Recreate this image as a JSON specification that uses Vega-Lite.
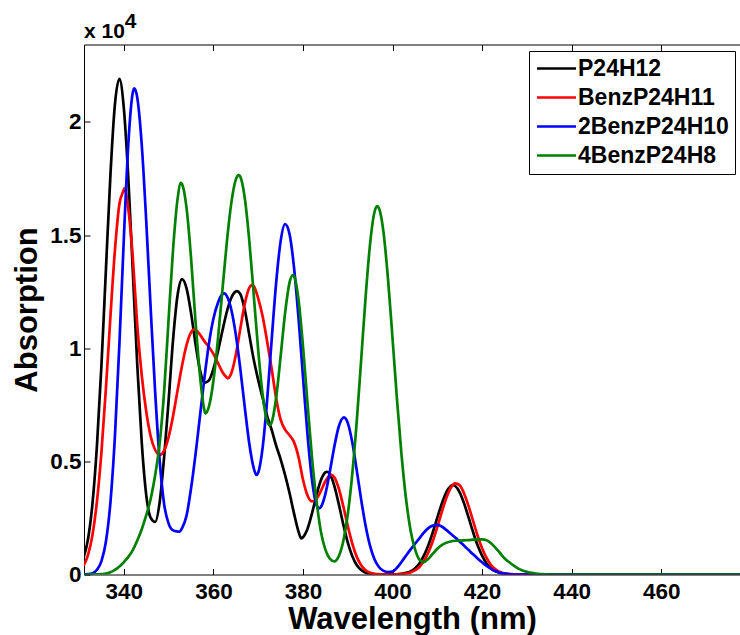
{
"$schema":"https://vega.github.io/schema/vega-lite/v6.json",
"width":656,"height":530,
"autosize":{"type":"none"},
"padding":{"left":84,"top":44.5,"right":0,"bottom":60.5},
"background":"white",
"title":{"text":"\u200b\u00a0\u00a0\u00a0\u00a0\u00a0\u00a0\u00a04","subtitle":"x 10","anchor":"start","frame":"group","font":"Liberation Sans","fontSize":21,"fontWeight":"bold","color":"black","subtitleFont":"Liberation Sans","subtitleFontSize":21,"subtitleFontWeight":"bold","subtitleColor":"black","subtitlePadding":-11,"offset":2},
"config":{"view":{"stroke":"black","strokeWidth":1},"font":"Liberation Sans"},
"data":{"values":[
{"s":"P24H12","w":331,"a":750},{"s":"P24H12","w":332,"a":1570},{"s":"P24H12","w":333,"a":3150},{"s":"P24H12","w":334,"a":5720},{"s":"P24H12","w":335,"a":9260},{"s":"P24H12","w":336,"a":13490},{"s":"P24H12","w":337,"a":17650},{"s":"P24H12","w":338,"a":20760},{"s":"P24H12","w":339,"a":21900},{"s":"P24H12","w":340,"a":20600},{"s":"P24H12","w":341,"a":17500},{"s":"P24H12","w":342,"a":13400},{"s":"P24H12","w":343,"a":9240},{"s":"P24H12","w":344,"a":5820},{"s":"P24H12","w":345,"a":3510},{"s":"P24H12","w":346,"a":2500},{"s":"P24H12","w":347,"a":2320},{"s":"P24H12","w":348,"a":3200},{"s":"P24H12","w":349,"a":5200},{"s":"P24H12","w":350,"a":7700},{"s":"P24H12","w":351,"a":10400},{"s":"P24H12","w":352,"a":12350},{"s":"P24H12","w":353,"a":13050},{"s":"P24H12","w":354,"a":12640},{"s":"P24H12","w":355,"a":11560},{"s":"P24H12","w":356,"a":10200},{"s":"P24H12","w":357,"a":9030},{"s":"P24H12","w":358,"a":8470},{"s":"P24H12","w":359,"a":8580},{"s":"P24H12","w":360,"a":9080},{"s":"P24H12","w":361,"a":9850},{"s":"P24H12","w":362,"a":10760},{"s":"P24H12","w":363,"a":11610},{"s":"P24H12","w":364,"a":12230},{"s":"P24H12","w":365,"a":12510},{"s":"P24H12","w":365.2,"a":12520},{"s":"P24H12","w":366,"a":12400},{"s":"P24H12","w":367,"a":11700},{"s":"P24H12","w":368,"a":10600},{"s":"P24H12","w":369,"a":9500},{"s":"P24H12","w":370,"a":8600},{"s":"P24H12","w":371,"a":7800},{"s":"P24H12","w":372,"a":7000},{"s":"P24H12","w":373,"a":6400},{"s":"P24H12","w":374,"a":5700},{"s":"P24H12","w":375,"a":5100},{"s":"P24H12","w":376,"a":4400},{"s":"P24H12","w":377,"a":3600},{"s":"P24H12","w":378,"a":2700},{"s":"P24H12","w":379,"a":1900},{"s":"P24H12","w":379.6,"a":1600},{"s":"P24H12","w":380,"a":1650},{"s":"P24H12","w":381,"a":2010},{"s":"P24H12","w":382,"a":2690},{"s":"P24H12","w":383,"a":3490},{"s":"P24H12","w":384,"a":4160},{"s":"P24H12","w":385,"a":4510},{"s":"P24H12","w":385.35,"a":4540},{"s":"P24H12","w":386,"a":4440},{"s":"P24H12","w":387,"a":3920},{"s":"P24H12","w":388,"a":3110},{"s":"P24H12","w":389,"a":2220},{"s":"P24H12","w":390,"a":1420},{"s":"P24H12","w":391,"a":820},{"s":"P24H12","w":392,"a":420},{"s":"P24H12","w":393,"a":200},{"s":"P24H12","w":394,"a":80},{"s":"P24H12","w":395,"a":30},{"s":"P24H12","w":396,"a":10},{"s":"P24H12","w":397,"a":0},{"s":"P24H12","w":399,"a":0},{"s":"P24H12","w":400,"a":5},{"s":"P24H12","w":401,"a":10},{"s":"P24H12","w":402,"a":30},{"s":"P24H12","w":403,"a":70},{"s":"P24H12","w":404,"a":140},{"s":"P24H12","w":405,"a":270},{"s":"P24H12","w":406,"a":490},{"s":"P24H12","w":407,"a":830},{"s":"P24H12","w":408,"a":1290},{"s":"P24H12","w":409,"a":1870},{"s":"P24H12","w":410,"a":2510},{"s":"P24H12","w":411,"a":3130},{"s":"P24H12","w":412,"a":3630},{"s":"P24H12","w":413,"a":3910},{"s":"P24H12","w":413.5,"a":3950},{"s":"P24H12","w":414,"a":3910},{"s":"P24H12","w":415,"a":3630},{"s":"P24H12","w":416,"a":3130},{"s":"P24H12","w":417,"a":2510},{"s":"P24H12","w":418,"a":1870},{"s":"P24H12","w":419,"a":1290},{"s":"P24H12","w":420,"a":830},{"s":"P24H12","w":421,"a":490},{"s":"P24H12","w":422,"a":270},{"s":"P24H12","w":423,"a":140},{"s":"P24H12","w":424,"a":70},{"s":"P24H12","w":425,"a":30},{"s":"P24H12","w":426,"a":10},{"s":"P24H12","w":427,"a":0},{"s":"P24H12","w":440,"a":0},{"s":"P24H12","w":460,"a":0},{"s":"P24H12","w":478,"a":0},
{"s":"BenzP24H11","w":331,"a":390},{"s":"BenzP24H11","w":332,"a":870},{"s":"BenzP24H11","w":333,"a":1760},{"s":"BenzP24H11","w":334,"a":3240},{"s":"BenzP24H11","w":335,"a":5420},{"s":"BenzP24H11","w":336,"a":8240},{"s":"BenzP24H11","w":337,"a":11390},{"s":"BenzP24H11","w":338,"a":14310},{"s":"BenzP24H11","w":339,"a":16360},{"s":"BenzP24H11","w":340,"a":17000},{"s":"BenzP24H11","w":340.1,"a":17060},{"s":"BenzP24H11","w":341,"a":16150},{"s":"BenzP24H11","w":342,"a":14000},{"s":"BenzP24H11","w":343,"a":11000},{"s":"BenzP24H11","w":344,"a":8800},{"s":"BenzP24H11","w":345,"a":7200},{"s":"BenzP24H11","w":346,"a":6100},{"s":"BenzP24H11","w":347,"a":5500},{"s":"BenzP24H11","w":348,"a":5280},{"s":"BenzP24H11","w":349,"a":5470},{"s":"BenzP24H11","w":350,"a":6080},{"s":"BenzP24H11","w":351,"a":7020},{"s":"BenzP24H11","w":352,"a":8140},{"s":"BenzP24H11","w":353,"a":9240},{"s":"BenzP24H11","w":354,"a":10140},{"s":"BenzP24H11","w":355,"a":10700},{"s":"BenzP24H11","w":355.75,"a":10830},{"s":"BenzP24H11","w":356,"a":10810},{"s":"BenzP24H11","w":357,"a":10600},{"s":"BenzP24H11","w":358,"a":10300},{"s":"BenzP24H11","w":359,"a":10050},{"s":"BenzP24H11","w":360,"a":9750},{"s":"BenzP24H11","w":361,"a":9350},{"s":"BenzP24H11","w":362,"a":8950},{"s":"BenzP24H11","w":363,"a":8700},{"s":"BenzP24H11","w":363.2,"a":8670},{"s":"BenzP24H11","w":364,"a":8890},{"s":"BenzP24H11","w":365,"a":9700},{"s":"BenzP24H11","w":366,"a":10850},{"s":"BenzP24H11","w":367,"a":11960},{"s":"BenzP24H11","w":368,"a":12670},{"s":"BenzP24H11","w":368.6,"a":12790},{"s":"BenzP24H11","w":369,"a":12750},{"s":"BenzP24H11","w":370,"a":12200},{"s":"BenzP24H11","w":371,"a":11400},{"s":"BenzP24H11","w":372,"a":10300},{"s":"BenzP24H11","w":373,"a":9100},{"s":"BenzP24H11","w":374,"a":7800},{"s":"BenzP24H11","w":375,"a":6850},{"s":"BenzP24H11","w":376,"a":6400},{"s":"BenzP24H11","w":377,"a":6150},{"s":"BenzP24H11","w":378,"a":5850},{"s":"BenzP24H11","w":379,"a":5200},{"s":"BenzP24H11","w":380,"a":4200},{"s":"BenzP24H11","w":381,"a":3500},{"s":"BenzP24H11","w":382,"a":3230},{"s":"BenzP24H11","w":383,"a":3330},{"s":"BenzP24H11","w":384,"a":3690},{"s":"BenzP24H11","w":385,"a":4120},{"s":"BenzP24H11","w":386,"a":4380},{"s":"BenzP24H11","w":386.35,"a":4400},{"s":"BenzP24H11","w":387,"a":4300},{"s":"BenzP24H11","w":388,"a":3800},{"s":"BenzP24H11","w":389,"a":3020},{"s":"BenzP24H11","w":390,"a":2150},{"s":"BenzP24H11","w":391,"a":1380},{"s":"BenzP24H11","w":392,"a":790},{"s":"BenzP24H11","w":393,"a":410},{"s":"BenzP24H11","w":394,"a":190},{"s":"BenzP24H11","w":395,"a":80},{"s":"BenzP24H11","w":396,"a":30},{"s":"BenzP24H11","w":397,"a":10},{"s":"BenzP24H11","w":398,"a":0},{"s":"BenzP24H11","w":400,"a":0},{"s":"BenzP24H11","w":401,"a":10},{"s":"BenzP24H11","w":402,"a":20},{"s":"BenzP24H11","w":403,"a":40},{"s":"BenzP24H11","w":404,"a":90},{"s":"BenzP24H11","w":405,"a":180},{"s":"BenzP24H11","w":406,"a":330},{"s":"BenzP24H11","w":407,"a":590},{"s":"BenzP24H11","w":408,"a":970},{"s":"BenzP24H11","w":409,"a":1480},{"s":"BenzP24H11","w":410,"a":2100},{"s":"BenzP24H11","w":411,"a":2760},{"s":"BenzP24H11","w":412,"a":3370},{"s":"BenzP24H11","w":413,"a":3820},{"s":"BenzP24H11","w":414,"a":4030},{"s":"BenzP24H11","w":415,"a":3940},{"s":"BenzP24H11","w":416,"a":3570},{"s":"BenzP24H11","w":417,"a":3010},{"s":"BenzP24H11","w":418,"a":2360},{"s":"BenzP24H11","w":419,"a":1720},{"s":"BenzP24H11","w":420,"a":1160},{"s":"BenzP24H11","w":421,"a":730},{"s":"BenzP24H11","w":422,"a":420},{"s":"BenzP24H11","w":423,"a":230},{"s":"BenzP24H11","w":424,"a":110},{"s":"BenzP24H11","w":425,"a":50},{"s":"BenzP24H11","w":426,"a":20},{"s":"BenzP24H11","w":427,"a":10},{"s":"BenzP24H11","w":428,"a":0},{"s":"BenzP24H11","w":440,"a":0},{"s":"BenzP24H11","w":460,"a":0},{"s":"BenzP24H11","w":478,"a":0},
{"s":"2BenzP24H10","w":331,"a":10},{"s":"2BenzP24H10","w":332,"a":20},{"s":"2BenzP24H10","w":333,"a":60},{"s":"2BenzP24H10","w":334,"a":210},{"s":"2BenzP24H10","w":335,"a":590},{"s":"2BenzP24H10","w":336,"a":1460},{"s":"2BenzP24H10","w":337,"a":3180},{"s":"2BenzP24H10","w":338,"a":6080},{"s":"2BenzP24H10","w":339,"a":10160},{"s":"2BenzP24H10","w":340,"a":14860},{"s":"2BenzP24H10","w":341,"a":19030},{"s":"2BenzP24H10","w":342,"a":21300},{"s":"2BenzP24H10","w":342.35,"a":21480},{"s":"2BenzP24H10","w":343,"a":21070},{"s":"2BenzP24H10","w":344,"a":18980},{"s":"2BenzP24H10","w":345,"a":15610},{"s":"2BenzP24H10","w":346,"a":11720},{"s":"2BenzP24H10","w":347,"a":8040},{"s":"2BenzP24H10","w":348,"a":5030},{"s":"2BenzP24H10","w":349,"a":3100},{"s":"2BenzP24H10","w":350,"a":2250},{"s":"2BenzP24H10","w":351,"a":1950},{"s":"2BenzP24H10","w":352,"a":1900},{"s":"2BenzP24H10","w":352.4,"a":1890},{"s":"2BenzP24H10","w":353,"a":2050},{"s":"2BenzP24H10","w":354,"a":2600},{"s":"2BenzP24H10","w":355,"a":3800},{"s":"2BenzP24H10","w":356,"a":5300},{"s":"2BenzP24H10","w":357,"a":7000},{"s":"2BenzP24H10","w":358,"a":8700},{"s":"2BenzP24H10","w":359,"a":10200},{"s":"2BenzP24H10","w":360,"a":11300},{"s":"2BenzP24H10","w":361,"a":12000},{"s":"2BenzP24H10","w":362,"a":12380},{"s":"2BenzP24H10","w":362.45,"a":12420},{"s":"2BenzP24H10","w":363,"a":12300},{"s":"2BenzP24H10","w":364,"a":11700},{"s":"2BenzP24H10","w":365,"a":10600},{"s":"2BenzP24H10","w":366,"a":9100},{"s":"2BenzP24H10","w":367,"a":7400},{"s":"2BenzP24H10","w":368,"a":5800},{"s":"2BenzP24H10","w":369,"a":4700},{"s":"2BenzP24H10","w":369.6,"a":4400},{"s":"2BenzP24H10","w":370,"a":4500},{"s":"2BenzP24H10","w":371,"a":5620},{"s":"2BenzP24H10","w":372,"a":7720},{"s":"2BenzP24H10","w":373,"a":10340},{"s":"2BenzP24H10","w":374,"a":12860},{"s":"2BenzP24H10","w":375,"a":14710},{"s":"2BenzP24H10","w":376,"a":15480},{"s":"2BenzP24H10","w":377,"a":15040},{"s":"2BenzP24H10","w":378,"a":13570},{"s":"2BenzP24H10","w":379,"a":11350},{"s":"2BenzP24H10","w":380,"a":8750},{"s":"2BenzP24H10","w":381,"a":6210},{"s":"2BenzP24H10","w":382,"a":4210},{"s":"2BenzP24H10","w":383,"a":3090},{"s":"2BenzP24H10","w":383.55,"a":2920},{"s":"2BenzP24H10","w":384,"a":2980},{"s":"2BenzP24H10","w":385,"a":3550},{"s":"2BenzP24H10","w":386,"a":4540},{"s":"2BenzP24H10","w":387,"a":5650},{"s":"2BenzP24H10","w":388,"a":6540},{"s":"2BenzP24H10","w":389,"a":6930},{"s":"2BenzP24H10","w":389.15,"a":6940},{"s":"2BenzP24H10","w":390,"a":6700},{"s":"2BenzP24H10","w":391,"a":5850},{"s":"2BenzP24H10","w":392,"a":4620},{"s":"2BenzP24H10","w":393,"a":3310},{"s":"2BenzP24H10","w":394,"a":2140},{"s":"2BenzP24H10","w":395,"a":1250},{"s":"2BenzP24H10","w":396,"a":660},{"s":"2BenzP24H10","w":397,"a":320},{"s":"2BenzP24H10","w":398,"a":160},{"s":"2BenzP24H10","w":399,"a":110},{"s":"2BenzP24H10","w":400,"a":130},{"s":"2BenzP24H10","w":401,"a":300},{"s":"2BenzP24H10","w":402,"a":550},{"s":"2BenzP24H10","w":403,"a":830},{"s":"2BenzP24H10","w":404,"a":1100},{"s":"2BenzP24H10","w":405,"a":1350},{"s":"2BenzP24H10","w":406,"a":1600},{"s":"2BenzP24H10","w":407,"a":1850},{"s":"2BenzP24H10","w":408,"a":2050},{"s":"2BenzP24H10","w":409,"a":2160},{"s":"2BenzP24H10","w":410,"a":2190},{"s":"2BenzP24H10","w":411,"a":2120},{"s":"2BenzP24H10","w":412,"a":1970},{"s":"2BenzP24H10","w":413,"a":1800},{"s":"2BenzP24H10","w":414,"a":1630},{"s":"2BenzP24H10","w":415,"a":1450},{"s":"2BenzP24H10","w":416,"a":1270},{"s":"2BenzP24H10","w":417,"a":1080},{"s":"2BenzP24H10","w":418,"a":890},{"s":"2BenzP24H10","w":419,"a":710},{"s":"2BenzP24H10","w":420,"a":540},{"s":"2BenzP24H10","w":421,"a":380},{"s":"2BenzP24H10","w":422,"a":250},{"s":"2BenzP24H10","w":423,"a":150},{"s":"2BenzP24H10","w":424,"a":80},{"s":"2BenzP24H10","w":425,"a":40},{"s":"2BenzP24H10","w":426,"a":20},{"s":"2BenzP24H10","w":427,"a":0},{"s":"2BenzP24H10","w":440,"a":0},{"s":"2BenzP24H10","w":460,"a":0},{"s":"2BenzP24H10","w":478,"a":0},
{"s":"4BenzP24H8","w":331,"a":0},{"s":"4BenzP24H8","w":332,"a":0},{"s":"4BenzP24H8","w":333,"a":10},{"s":"4BenzP24H8","w":334,"a":10},{"s":"4BenzP24H8","w":335,"a":20},{"s":"4BenzP24H8","w":336,"a":40},{"s":"4BenzP24H8","w":337,"a":100},{"s":"4BenzP24H8","w":338,"a":200},{"s":"4BenzP24H8","w":339,"a":350},{"s":"4BenzP24H8","w":340,"a":550},{"s":"4BenzP24H8","w":341,"a":780},{"s":"4BenzP24H8","w":342,"a":1080},{"s":"4BenzP24H8","w":343,"a":1500},{"s":"4BenzP24H8","w":344,"a":2000},{"s":"4BenzP24H8","w":345,"a":2620},{"s":"4BenzP24H8","w":346,"a":3350},{"s":"4BenzP24H8","w":347,"a":4400},{"s":"4BenzP24H8","w":348,"a":5800},{"s":"4BenzP24H8","w":349,"a":8100},{"s":"4BenzP24H8","w":350,"a":11300},{"s":"4BenzP24H8","w":351,"a":14400},{"s":"4BenzP24H8","w":352,"a":16600},{"s":"4BenzP24H8","w":352.75,"a":17310},{"s":"4BenzP24H8","w":353,"a":17250},{"s":"4BenzP24H8","w":354,"a":16200},{"s":"4BenzP24H8","w":355,"a":14000},{"s":"4BenzP24H8","w":356,"a":11200},{"s":"4BenzP24H8","w":357,"a":8800},{"s":"4BenzP24H8","w":358,"a":7250},{"s":"4BenzP24H8","w":358.2,"a":7120},{"s":"4BenzP24H8","w":359,"a":7420},{"s":"4BenzP24H8","w":360,"a":8560},{"s":"4BenzP24H8","w":361,"a":10380},{"s":"4BenzP24H8","w":362,"a":12550},{"s":"4BenzP24H8","w":363,"a":14690},{"s":"4BenzP24H8","w":364,"a":16420},{"s":"4BenzP24H8","w":365,"a":17450},{"s":"4BenzP24H8","w":365.65,"a":17650},{"s":"4BenzP24H8","w":366,"a":17580},{"s":"4BenzP24H8","w":367,"a":16640},{"s":"4BenzP24H8","w":368,"a":14780},{"s":"4BenzP24H8","w":369,"a":12370},{"s":"4BenzP24H8","w":370,"a":9930},{"s":"4BenzP24H8","w":371,"a":7930},{"s":"4BenzP24H8","w":372,"a":6780},{"s":"4BenzP24H8","w":372.55,"a":6600},{"s":"4BenzP24H8","w":373,"a":6720},{"s":"4BenzP24H8","w":374,"a":7790},{"s":"4BenzP24H8","w":375,"a":9620},{"s":"4BenzP24H8","w":376,"a":11540},{"s":"4BenzP24H8","w":377,"a":12900},{"s":"4BenzP24H8","w":377.75,"a":13230},{"s":"4BenzP24H8","w":378,"a":13190},{"s":"4BenzP24H8","w":379,"a":12160},{"s":"4BenzP24H8","w":380,"a":10100},{"s":"4BenzP24H8","w":381,"a":7600},{"s":"4BenzP24H8","w":382,"a":5200},{"s":"4BenzP24H8","w":383,"a":3300},{"s":"4BenzP24H8","w":384,"a":1900},{"s":"4BenzP24H8","w":385,"a":1100},{"s":"4BenzP24H8","w":386,"a":700},{"s":"4BenzP24H8","w":387,"a":580},{"s":"4BenzP24H8","w":388,"a":810},{"s":"4BenzP24H8","w":389,"a":1470},{"s":"4BenzP24H8","w":390,"a":2650},{"s":"4BenzP24H8","w":391,"a":4410},{"s":"4BenzP24H8","w":392,"a":6740},{"s":"4BenzP24H8","w":393,"a":9490},{"s":"4BenzP24H8","w":394,"a":12290},{"s":"4BenzP24H8","w":395,"a":14630},{"s":"4BenzP24H8","w":396,"a":16040},{"s":"4BenzP24H8","w":396.6,"a":16280},{"s":"4BenzP24H8","w":397,"a":16170},{"s":"4BenzP24H8","w":398,"a":15100},{"s":"4BenzP24H8","w":399,"a":13040},{"s":"4BenzP24H8","w":400,"a":10440},{"s":"4BenzP24H8","w":401,"a":7730},{"s":"4BenzP24H8","w":402,"a":5310},{"s":"4BenzP24H8","w":403,"a":3370},{"s":"4BenzP24H8","w":404,"a":1980},{"s":"4BenzP24H8","w":405,"a":1130},{"s":"4BenzP24H8","w":406,"a":660},{"s":"4BenzP24H8","w":407,"a":550},{"s":"4BenzP24H8","w":408,"a":690},{"s":"4BenzP24H8","w":409,"a":920},{"s":"4BenzP24H8","w":410,"a":1140},{"s":"4BenzP24H8","w":411,"a":1300},{"s":"4BenzP24H8","w":412,"a":1400},{"s":"4BenzP24H8","w":413,"a":1460},{"s":"4BenzP24H8","w":414,"a":1490},{"s":"4BenzP24H8","w":415,"a":1500},{"s":"4BenzP24H8","w":416,"a":1510},{"s":"4BenzP24H8","w":417,"a":1520},{"s":"4BenzP24H8","w":418,"a":1540},{"s":"4BenzP24H8","w":419,"a":1550},{"s":"4BenzP24H8","w":420,"a":1550},{"s":"4BenzP24H8","w":421,"a":1510},{"s":"4BenzP24H8","w":422,"a":1380},{"s":"4BenzP24H8","w":423,"a":1180},{"s":"4BenzP24H8","w":424,"a":950},{"s":"4BenzP24H8","w":425,"a":720},{"s":"4BenzP24H8","w":426,"a":550},{"s":"4BenzP24H8","w":427,"a":400},{"s":"4BenzP24H8","w":428,"a":270},{"s":"4BenzP24H8","w":429,"a":180},{"s":"4BenzP24H8","w":430,"a":120},{"s":"4BenzP24H8","w":431,"a":70},{"s":"4BenzP24H8","w":432,"a":40},{"s":"4BenzP24H8","w":433,"a":20},{"s":"4BenzP24H8","w":434,"a":10},{"s":"4BenzP24H8","w":435,"a":0},{"s":"4BenzP24H8","w":440,"a":0},{"s":"4BenzP24H8","w":460,"a":0},{"s":"4BenzP24H8","w":478,"a":0}
]},
"layer":[
{"mark":{"type":"line","strokeWidth":2.7,"clip":true,"interpolate":"monotone"},
"encoding":{
"x":{"field":"w","type":"quantitative","scale":{"domain":[331.1,477.6],"nice":false,"zero":false},
"axis":{"orient":"bottom","values":[340,360,380,400,420,440,460],"grid":false,"domain":false,"tickColor":"black","tickSize":-6,"tickWidth":1,"labelPadding":12,"labelFont":"Liberation Sans","labelFontSize":22.5,"labelFontWeight":"bold","labelColor":"black","labelFlush":false,"title":"Wavelength (nm)","titleFont":"Liberation Sans","titleFontSize":31,"titleFontWeight":"bold","titleColor":"black","titleX":328,"titleY":54,"titleBaseline":"alphabetic","titleAlign":"center"}},
"y":{"field":"a","type":"quantitative","scale":{"domain":[0,23420],"nice":false},
"axis":{"orient":"left","values":[0,5000,10000,15000,20000],"labelExpr":"'' + datum.value / 10000","grid":false,"domain":false,"tickColor":"black","tickSize":-6,"tickWidth":1,"labelPadding":9,"labelFont":"Liberation Sans","labelFontSize":22.5,"labelFontWeight":"bold","labelColor":"black","labelFlush":false,"title":"Absorption","titleFont":"Liberation Sans","titleFontSize":31,"titleFontWeight":"bold","titleColor":"black","titleX":-48,"titleY":265,"titleAngle":-90,"titleBaseline":"alphabetic","titleAlign":"center"}},
"color":{"field":"s","type":"nominal","sort":null,"scale":{"domain":["P24H12","BenzP24H11","2BenzP24H10","4BenzP24H8"],"range":["#000000","#ff0000","#0000ff","#008000"]},
"legend":{"title":null,"orient":"none","legendX":445,"legendY":6.5,"strokeColor":"black","fillColor":"white","padding":6,"symbolType":"M-1,0H5","symbolSize":169,"symbolStrokeWidth":2.7,"symbolOffset":-3,"labelOffset":23,"labelFont":"Liberation Sans","labelFontSize":23,"labelFontWeight":"bold","labelColor":"black","rowPadding":5,"labelLimit":300}}
}},
{"mark":{"type":"line","opacity":0,"clip":true},
"encoding":{
"x":{"field":"w","type":"quantitative","scale":{"domain":[331.1,477.6],"nice":false,"zero":false},
"axis":{"orient":"top","values":[340,360,380,400,420,440,460],"grid":false,"domain":false,"labels":false,"tickColor":"black","tickSize":-6,"tickWidth":1,"title":null}},
"y":{"field":"a","type":"quantitative"}
}}
],
"resolve":{"axis":{"x":"independent"}}
}
